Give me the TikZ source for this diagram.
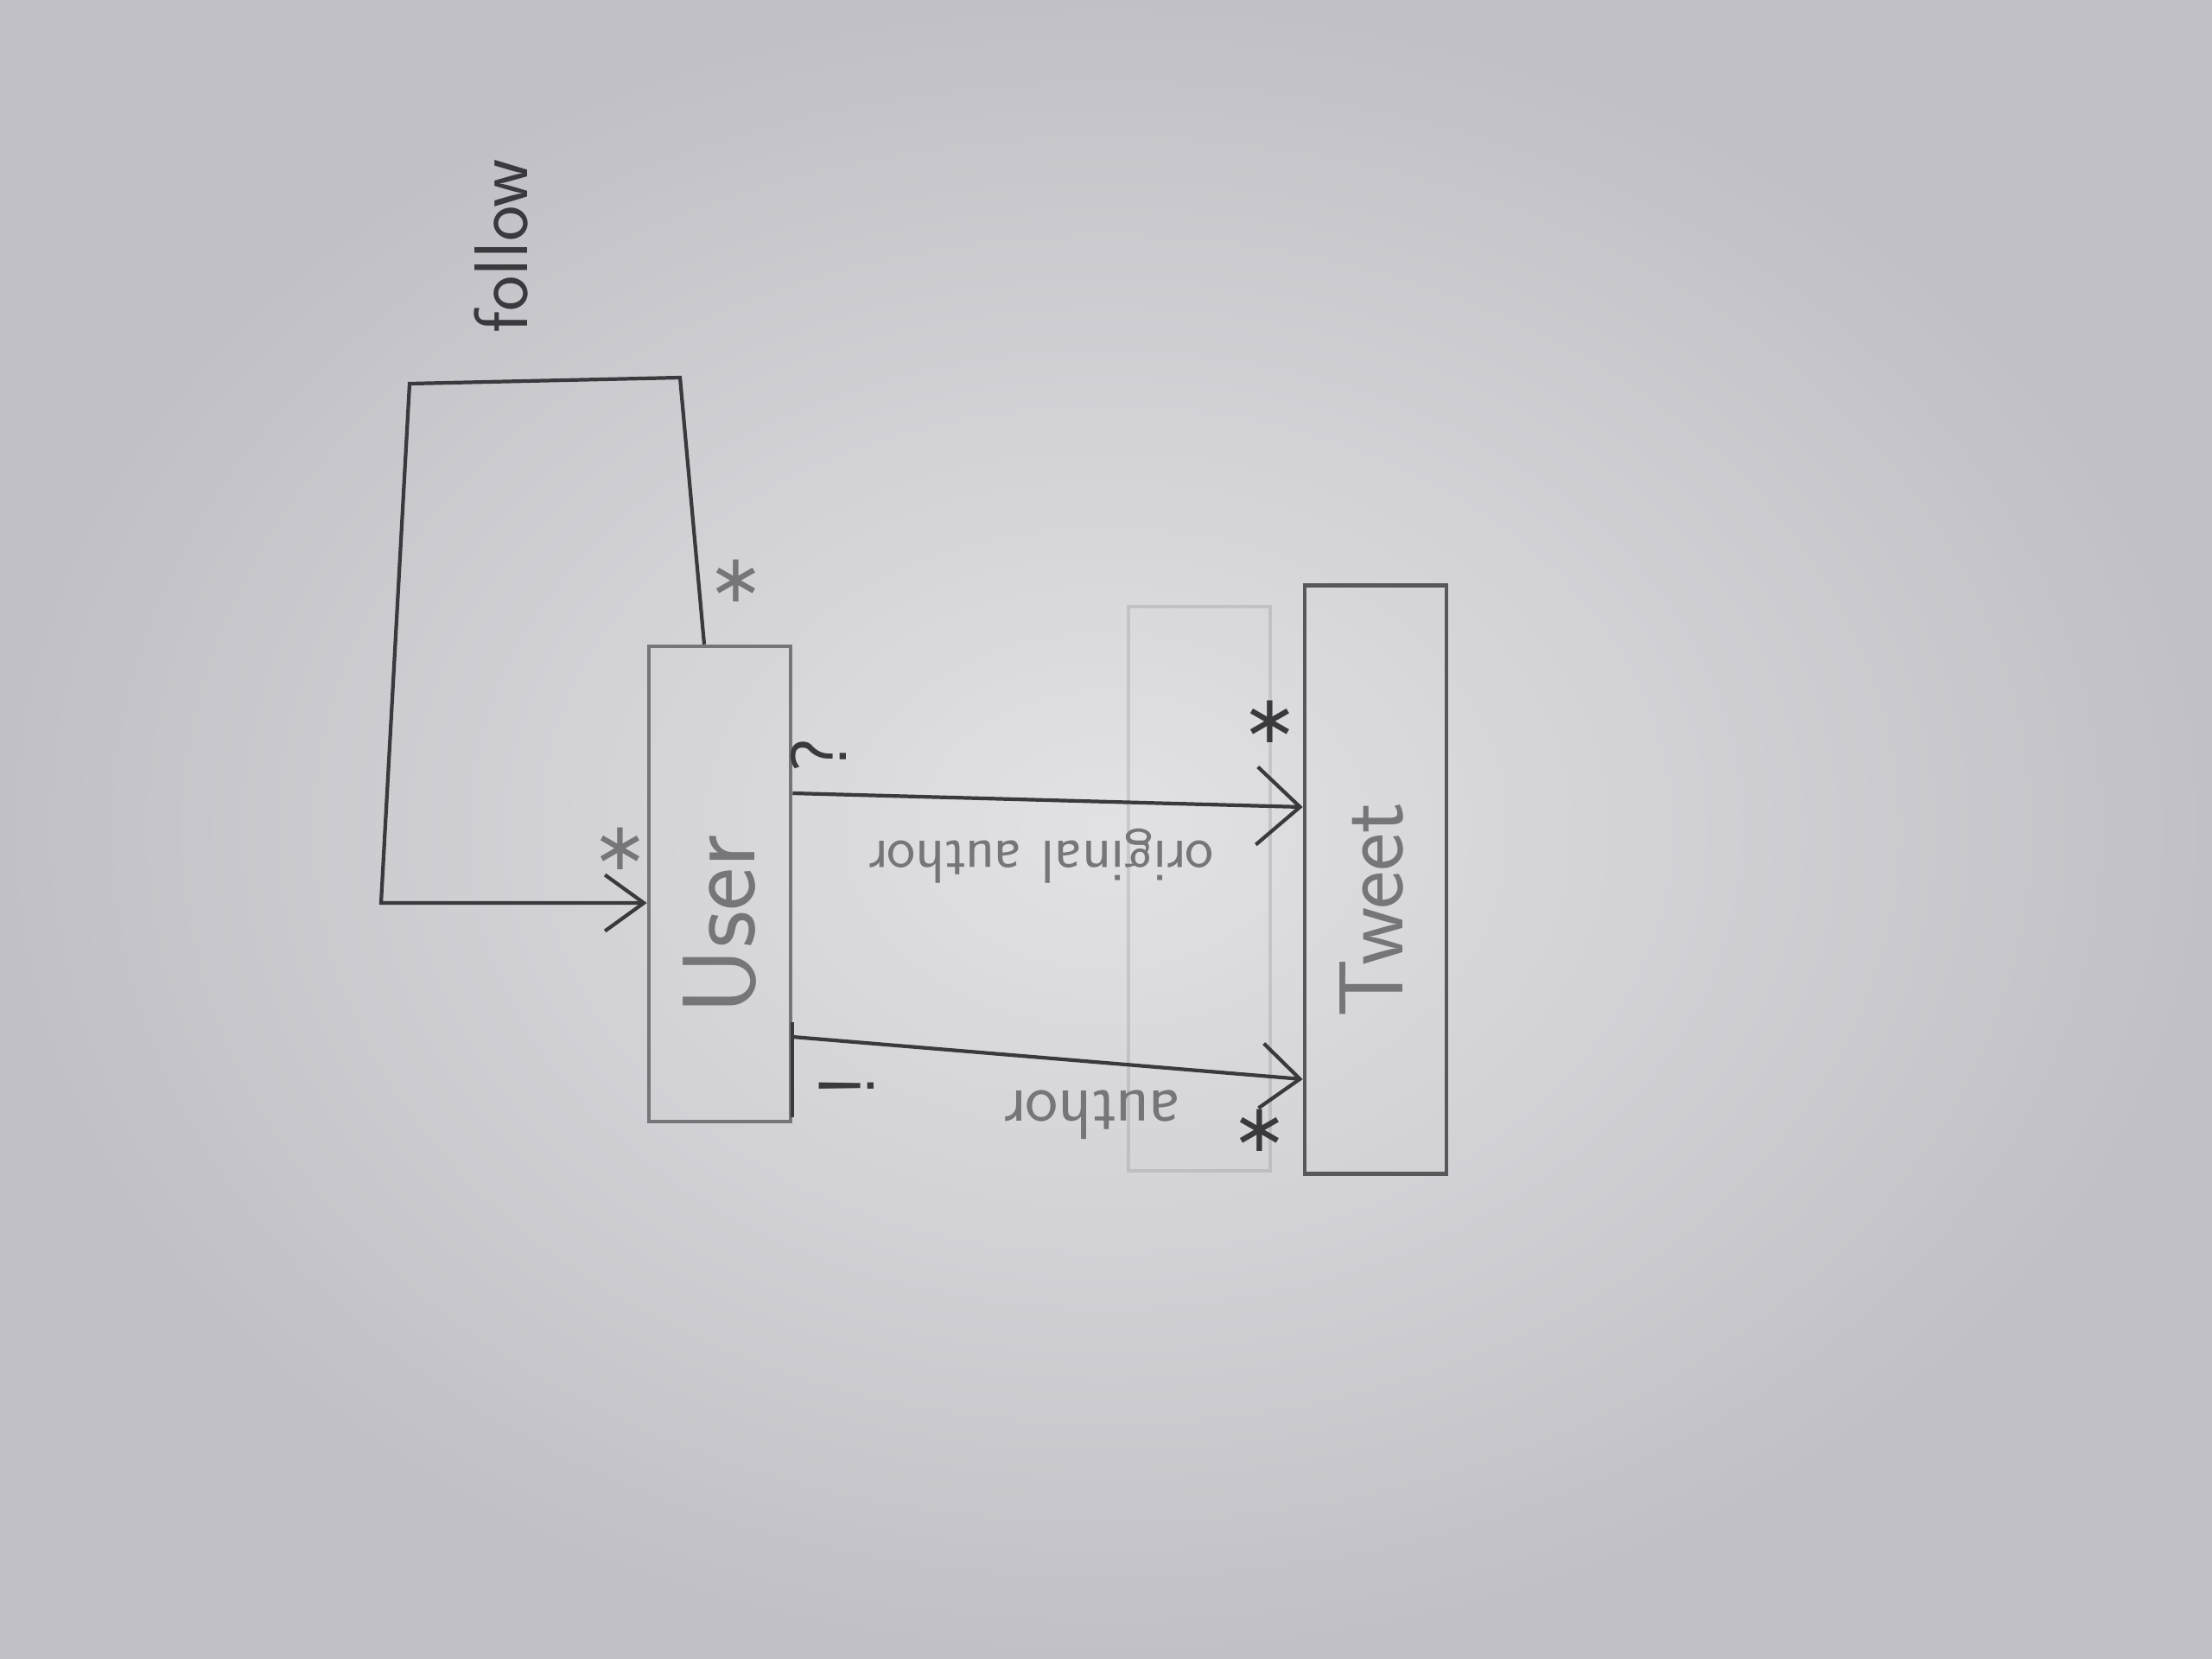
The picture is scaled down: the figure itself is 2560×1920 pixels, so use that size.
\documentclass[tikz,border=0pt]{standalone}
\usepackage{fontspec}
\newfontfamily\symbfont{DejaVu Sans}
\usetikzlibrary{arrows.meta,positioning,calc}
\definecolor{paperhi}{RGB}{226,226,230}
\definecolor{paperlo}{RGB}{192,192,198}
\definecolor{pencil}{RGB}{58,58,62}
\definecolor{pencillight}{RGB}{118,118,122}
\tikzset{
  klasse/.style={draw=pencillight,line width=1.3pt,minimum width=16.4mm,inner sep=0pt},
  pen/.style={draw=pencil,line width=1.2pt},
  hand/.style={text=pencil,inner sep=0pt,rotate=90},
  handflip/.style={text=pencil,inner sep=0pt,rotate=180},
  mult/.style={text=pencillight,inner sep=0pt,font=\symbfont\fontsize{22}{22}\selectfont},
  faint/.style={draw=pencil,draw opacity=0.14,line width=1pt}
}
\begin{document}
\begin{tikzpicture}[x=0.1mm,y=-0.1mm]
  \shade[inner color=paperhi,outer color=paperlo] (0,0) rectangle (2560,1920);
  \useasboundingbox (0,0) rectangle (2560,1920);
  \draw[faint] (1306,702) rectangle (1470,1355);
  \node[klasse,minimum height=55mm] (user) at (833,1023) {};
  \node[klasse,draw=pencil!85,minimum height=68.1mm] (tweet) at (1592,1018) {};
  \node[hand,font=\sffamily\fontsize{34}{34}\selectfont,text=pencillight] (userlabel) at (833,1070) {User};
  \node[hand,font=\sffamily\fontsize{30}{30}\selectfont,text=pencillight] (tweetlabel) at (1587,1053) {Tweet};
  \node[hand,font=\sffamily\fontsize{25}{25}\selectfont] (followlabel) at (580,285) {follow};
  \draw[pen,-{Straight Barb[length=4.5mm,width=6.5mm]}] ([xshift=-1.8mm]user.north) -- (787,437) -- (474,444) -- (441,1045) -- ([yshift=-2.2mm]user.west);
  \node[mult] (m1) at (852,672) {∗};
  \node[mult] (m2) at (718,982) {∗};
  \draw[pen,-{Straight Barb[length=5mm,width=9mm]}] ([yshift=10.5mm]user.east) -- ([yshift=8.4mm]tweet.west);
  \node[hand,font=\sffamily\fontsize{26}{26}\selectfont] (q1) at (947,874) {?};
  \node[mult,text=pencil] (m3) at (1470,835) {∗};
  \node[handflip,font=\sffamily\fontsize{20}{20}\selectfont,text=pencillight] (origlabel) at (1205,991) {original author};
  \draw[pen] ([yshift=-16mm]user.east) -- ([yshift=-27mm]user.east);
  \draw[pen,-{Straight Barb[length=4.5mm,width=7.5mm]}] ([yshift=-17.7mm]user.east) -- ([yshift=-23.1mm]tweet.west);
  \node[hand,font=\sffamily\fontsize{26}{26}\selectfont] (q2) at (980,1257) {!};
  \node[mult,text=pencil] (m4) at (1458,1308) {∗};
  \node[handflip,font=\sffamily\fontsize{23}{23}\selectfont,text=pencillight] (authorlabel) at (1265,1290) {author};
\end{tikzpicture}
\end{document}
